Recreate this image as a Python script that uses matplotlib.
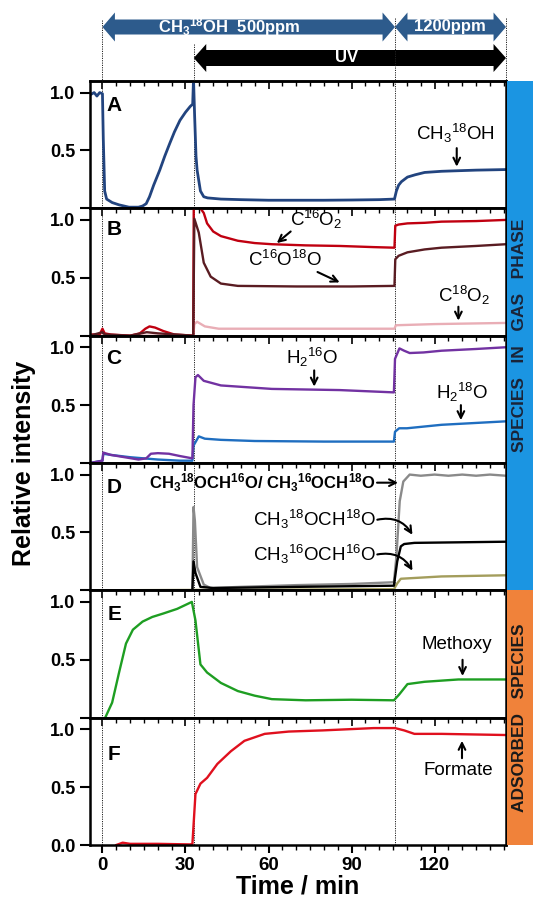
import numpy as np
import matplotlib
matplotlib.use('Agg')
import matplotlib.pyplot as plt
from matplotlib.patches import Polygon, Rectangle
from matplotlib.ticker import MultipleLocator, FixedLocator

plt.rcParams['font.family'] = ['Liberation Sans', 'DejaVu Sans']
plt.rcParams['mathtext.fontset'] = 'custom'
plt.rcParams['mathtext.rm'] = 'Liberation Sans'
plt.rcParams['mathtext.it'] = 'Liberation Sans:italic'
plt.rcParams['mathtext.bf'] = 'Liberation Sans:bold'
plt.rcParams['mathtext.default'] = 'regular'

# ---------------- data ----------------
events = [0, 33, 105.7]          # CH3OH on, UV on, 1200 ppm
x_range = (-4.5, 145.8)

# Panel A : CH3 18OH
A_t = [-4.5, -3, -2, -1, 0, 0.3, 0.8, 1.5, 3.5, 6, 9.6, 13, 14.5, 15.8, 17, 18.5,
       20.7, 22.5, 24.3, 26, 28, 30, 31.7, 32.6, 32.9, 33.3, 33.8, 34.2, 35.4, 36.6,
       38, 42.8, 50, 60, 70, 80, 90, 100, 105.5, 106.2, 107, 108, 110.2, 113, 116.4,
       122.5, 128.6, 135, 145.8]
A_v = [0.98, 1.0, 0.97, 1.0, 0.99, 0.6, 0.15, 0.08, 0.05, 0.03, 0.01, 0.01, 0.02,
       0.04, 0.1, 0.2, 0.33, 0.45, 0.56, 0.66, 0.76, 0.83, 0.88, 0.9, 1.12, 0.8, 0.45,
       0.33, 0.15, 0.1, 0.09, 0.08, 0.075, 0.07, 0.07, 0.07, 0.072, 0.075, 0.08, 0.15,
       0.2, 0.23, 0.27, 0.29, 0.31, 0.32, 0.325, 0.33, 0.335]

# Panel B : CO2 isotopologues
B16_t = [-4.5, -1, 0, 0.8, 3, 10, 13.5, 15.5, 17, 19, 22, 26, 32.8, 33.0, 33.6,
         35.4, 36.6, 37.8, 40, 42.8, 48.9, 55, 61.2, 73.4, 85.7, 98, 105.5, 105.8,
         107, 110.2, 116.4, 122.5, 135, 145.8]
B16_v = [0.01, 0.01, 0.06, 0.02, 0.01, 0.0, 0.02, 0.06, 0.08, 0.07, 0.04, 0.01, 0.0,
         1.2, 1.2, 1.1, 1.06, 0.97, 0.9, 0.86, 0.82, 0.8, 0.79, 0.78, 0.775, 0.765,
         0.76, 0.95, 0.96, 0.97, 0.975, 0.985, 0.99, 1.0]
B1618_t = [-4.5, 0, 0.8, 10, 16, 20, 32.8, 33.2, 34.8, 36.6, 39.1, 42.8, 48.9, 70,
           90, 105.5, 105.8, 107, 110.2, 116.4, 122.5, 135, 145.8]
B1618_v = [0.0, 0.03, 0.01, 0.0, 0.03, 0.02, 0.0, 1.01, 0.89, 0.63, 0.51, 0.45, 0.43,
           0.425, 0.425, 0.43, 0.66, 0.69, 0.72, 0.745, 0.76, 0.775, 0.79]
B18_t = [-4.5, 32.8, 33.2, 34.2, 37, 42, 70, 105.5, 106, 120, 145.8]
B18_v = [0.0, 0.0, 0.1, 0.12, 0.08, 0.06, 0.06, 0.06, 0.09, 0.1, 0.11]

# Panel C : water isotopologues
C16_t = [-4.5, 0, 0.3, 3, 8, 13, 15.8, 17.5, 20, 24, 28, 32.5, 32.9, 33.6, 34.5,
         36.6, 42.8, 61.2, 85.7, 105.3, 105.7, 107.3, 109, 111, 116, 122.5, 135, 145.8]
C16_v = [0.0, 0.02, 0.09, 0.07, 0.05, 0.03, 0.04, 0.08, 0.085, 0.08, 0.06, 0.04, 0.5,
         0.74, 0.76, 0.71, 0.67, 0.64, 0.63, 0.61, 0.9, 0.99, 0.97, 0.95, 0.955, 0.97,
         0.985, 1.0]
C18_t = [-4.5, 0, 0.3, 3, 10, 20, 28, 32.5, 32.9, 34.8, 37, 42.8, 55, 80, 105.3,
         105.7, 107.2, 110, 122.5, 145.8]
C18_v = [0.0, 0.02, 0.08, 0.07, 0.05, 0.03, 0.02, 0.02, 0.15, 0.23, 0.21, 0.2, 0.19,
         0.185, 0.185, 0.27, 0.3, 0.3, 0.33, 0.36]

# Panel D : methyl formate isotopologues
Dmix_t = [-4.5, 32.5, 32.9, 33.4, 34.2, 36.6, 39, 50, 70, 90, 105.3, 106.2, 107.4,
          108.7, 111, 115, 120, 125, 130, 135, 140, 145.8]
Dmix_v = [0.0, 0.0, 0.72, 0.6, 0.2, 0.05, 0.02, 0.03, 0.045, 0.055, 0.07, 0.29, 0.77,
          0.94, 1.0, 0.99, 1.0, 0.99, 1.0, 0.99, 1.0, 0.99]
D18_t = [-4.5, 32.5, 32.9, 33.6, 35.4, 40, 70, 105.3, 106.5, 107.8, 109, 112.7, 145.8]
D18_v = [0.0, 0.0, 0.25, 0.15, 0.03, 0.02, 0.03, 0.04, 0.25, 0.38, 0.4, 0.41, 0.42]
D16_t = [-4.5, 105.3, 106.5, 107.8, 122.5, 145.8]
D16_v = [0.0, 0.01, 0.06, 0.1, 0.12, 0.13]

# Panel E : adsorbed methoxy
E_t = [0.3, 1.0, 3.5, 6, 8.5, 11, 14.5, 18, 22, 27, 32.3, 33.6, 35.4, 37.8, 42.8,
       48.9, 55, 61.2, 73.4, 90, 105.3, 107.2, 110.2, 116.4, 128.6, 145.8]
E_v = [-0.05, 0.0, 0.13, 0.39, 0.64, 0.76, 0.83, 0.87, 0.9, 0.94, 1.0, 0.84, 0.46,
       0.39, 0.3, 0.23, 0.19, 0.16, 0.15, 0.155, 0.15, 0.2, 0.29, 0.31, 0.33, 0.33]

# Panel F : adsorbed formate
F_t = [5, 7.3, 10, 20, 31.7, 32.5, 33.6, 35.4, 37.8, 41.5, 46.4, 51.3, 58.6, 67.3,
       79.6, 98, 105.7, 109, 112.7, 122.5, 145.8]
F_v = [0.0, 0.02, 0.01, 0.01, 0.005, 0.01, 0.44, 0.53, 0.58, 0.7, 0.81, 0.9, 0.96,
       0.98, 0.99, 1.01, 1.01, 0.99, 0.96, 0.96, 0.95]

panel_letters = ['A', 'B', 'C', 'D', 'E', 'F']
letter_y = [0.89, 0.915, 0.9, 0.89, 0.89, 0.78]
x_ticks = [0, 30, 60, 90, 120]
y_ticks = [0.0, 0.5, 1.0]

# ---------------- layout ----------------
W, H = 533, 905
fig = plt.figure(figsize=(W / 100, H / 100), dpi=100)
L, R, T, B = 90, 506, 81, 845
hp = (B - T) / 6.0

def dotted(ax):
    for e in events:
        ax.axvline(e, color='#222222', lw=0.7, ls=(0, (1.2, 1.2)), zorder=0.5)

axes = []
for i in range(6):
    top = T + i * hp
    ax = fig.add_axes([L / W, 1 - (top + hp) / H, (R - L) / W, hp / H])
    ax.set_xlim(*x_range)
    ax.set_ylim(0, 1.1)
    for s in ax.spines.values():
        s.set_linewidth(1.8)
    ax.yaxis.set_major_locator(FixedLocator(y_ticks))
    if i < 5:
        ax.set_yticklabels(['', '0.5', '1.0'])
    else:
        ax.set_yticklabels(['0.0', '0.5', '1.0'])
    ax.tick_params(axis='y', direction='out', length=7.5, width=1.5, labelsize=13,
                   pad=3)
    for lab in ax.get_yticklabels():
        lab.set_fontweight('bold')
    ax.xaxis.set_major_locator(FixedLocator(x_ticks))
    ax.xaxis.set_minor_locator(MultipleLocator(5))
    sec = ax.secondary_xaxis('top')
    sec.xaxis.set_major_locator(FixedLocator(x_ticks))
    sec.xaxis.set_minor_locator(MultipleLocator(5))
    sec.tick_params(which='major', direction='in', length=6, width=1.2, labeltop=False)
    sec.tick_params(which='minor', direction='in', length=3.5, width=1.0)
    sec.spines['top'].set_linewidth(1.8)
    if i < 5:
        ax.tick_params(axis='x', which='both', bottom=False, labelbottom=False)
    else:
        ax.tick_params(axis='x', which='major', direction='out', length=6, width=1.5,
                       labelsize=13.5, pad=3)
        ax.tick_params(axis='x', which='minor', direction='out', length=3.5, width=1.0)
        for lab in ax.get_xticklabels():
            lab.set_fontweight('bold')
    dotted(ax)
    ax.text(4.2, letter_y[i], panel_letters[i], fontsize=15, fontweight='bold',
            ha='center', va='center')
    axes.append(ax)

axA, axB, axC, axD, axE, axF = axes
lw = 1.7
axA.plot(A_t, A_v, color='#22447F', lw=2.0)
axB.plot(B18_t, B18_v, color='#E9AEB6', lw=lw)
axB.plot(B16_t, B16_v, color='#C00010', lw=lw)
axB.plot(B1618_t, B1618_v, color='#5A1C22', lw=lw)
axC.plot(C18_t, C18_v, color='#1F6EC0', lw=lw)
axC.plot(C16_t, C16_v, color='#7232A2', lw=lw)
axD.plot(Dmix_t, Dmix_v, color='#8A8A8A', lw=lw)
axD.plot(D16_t, D16_v, color='#A39D5C', lw=lw)
axD.plot(D18_t, D18_v, color='#000000', lw=lw)
axE.plot(E_t, E_v, color='#1E9E22', lw=lw)
axF.plot(F_t, F_v, color='#E0101E', lw=lw)

# annotations
arr = dict(arrowstyle='->', lw=1.5, color='black', mutation_scale=12, shrinkA=0, shrinkB=0)
fs = 13.5
axA.text(127.4, 0.645, r'CH$_3$$^{18}$OH', fontsize=fs, ha='center', va='center')
axA.annotate('', xy=(128, 0.36), xytext=(128, 0.52), arrowprops=arr)

axB.text(77.1, 1.0, r'C$^{16}$O$_2$', fontsize=fs, ha='center', va='center')
axB.annotate('', xy=(63, 0.8), xytext=(68, 0.9), arrowprops=arr)
axB.text(66.1, 0.65, r'C$^{16}$O$^{18}$O', fontsize=fs, ha='center', va='center')
axB.annotate('', xy=(85.7, 0.46), xytext=(77.7, 0.55), arrowprops=arr)
axB.text(130.5, 0.35, r'C$^{18}$O$_2$', fontsize=fs, ha='center', va='center')
axB.annotate('', xy=(128.6, 0.13), xytext=(128.6, 0.25), arrowprops=arr)

axC.text(75.9, 0.91, r'H$_2$$^{16}$O', fontsize=fs, ha='center', va='center')
axC.annotate('', xy=(76.5, 0.66), xytext=(76.5, 0.8), arrowprops=arr)
axC.text(129.9, 0.61, r'H$_2$$^{18}$O', fontsize=fs, ha='center', va='center')
axC.annotate('', xy=(129.5, 0.37), xytext=(129.5, 0.5), arrowprops=arr)

axD.text(98.8, 0.93, r'CH$_3$$^{18}$OCH$^{16}$O/ CH$_3$$^{16}$OCH$^{18}$O', fontsize=12,
         fontweight='bold', ha='right', va='center')
axD.annotate('', xy=(106.8, 0.93), xytext=(99.2, 0.93), arrowprops=arr)
axD.text(98.8, 0.61, r'CH$_3$$^{18}$OCH$^{18}$O', fontsize=fs, ha='right', va='center')
axD.annotate('', xy=(112, 0.48), xytext=(99.3, 0.61),
             arrowprops=dict(arr, connectionstyle='arc3,rad=-0.35'))
axD.text(98.8, 0.31, r'CH$_3$$^{16}$OCH$^{16}$O', fontsize=fs, ha='right', va='center')
axD.annotate('', xy=(112, 0.17), xytext=(99.3, 0.31),
             arrowprops=dict(arr, connectionstyle='arc3,rad=-0.35'))

axE.text(128, 0.63, 'Methoxy', fontsize=fs, ha='center', va='center')
axE.annotate('', xy=(130.1, 0.36), xytext=(130.1, 0.5), arrowprops=arr)
axF.text(128.4, 0.64, 'Formate', fontsize=fs, ha='center', va='center')
axF.annotate('', xy=(129.9, 0.9), xytext=(129.9, 0.75), arrowprops=arr)

axF.set_xlabel('Time / min', fontsize=18, fontweight='bold', labelpad=0)
fig.text(24 / W, 1 - 463 / H, 'Relative intensity', fontsize=18, fontweight='bold',
         rotation=90, ha='center', va='center')

# ---------------- top arrow band ----------------
axT = fig.add_axes([L / W, 1 - T / H, (R - L) / W, T / H])
axT.set_xlim(*x_range)
axT.set_ylim(T, 0)
axT.axis('off')

def darrow(ax, x1, x2, yc, bh, hh, hl, color):
    pts = [(x1, yc), (x1 + hl, yc - hh), (x1 + hl, yc - bh), (x2 - hl, yc - bh),
           (x2 - hl, yc - hh), (x2, yc), (x2 - hl, yc + hh), (x2 - hl, yc + bh),
           (x1 + hl, yc + bh), (x1 + hl, yc + hh)]
    ax.add_patch(Polygon(pts, closed=True, fc=color, ec='none', clip_on=False))

xr = x_range[1]
for xv, y0 in [(events[0], 20), (events[1], 44), (events[2], 18), (xr, 18)]:
    axT.plot([xv, xv], [y0, T], color='#222222', lw=0.7, ls=(0, (1.2, 1.2)),
             clip_on=False)
blue = '#2D5B8C'
darrow(axT, events[0], events[2], 27, 7.5, 14.5, 4.5, blue)
darrow(axT, events[2], xr, 27, 7.5, 14.5, 4.5, blue)
darrow(axT, events[1], xr, 58, 8, 14, 4.5, 'black')
axT.text(46, 27, r'CH$_3$$^{18}$OH  500ppm', color='white', fontsize=12,
         fontweight='bold', ha='center', va='center')
axT.text(125.6, 27, '1200ppm', color='white', fontsize=12, fontweight='bold',
         ha='center', va='center')
axT.text(88.3, 58, 'UV', color='white', fontsize=12, fontweight='bold',
         ha='center', va='center')

# ---------------- side colour bars ----------------
x0 = 507 / W
fig.patches.append(Rectangle((x0, 1 - (T + 4 * hp) / H), 1 - x0, 4 * hp / H,
                             transform=fig.transFigure, fc='#1B95E2', ec='none'))
fig.patches.append(Rectangle((x0, 1 - B / H), 1 - x0, 2 * hp / H,
                             transform=fig.transFigure, fc='#F0823A', ec='none'))
fig.text(519 / W, 1 - (T + 2 * hp) / H, 'SPECIES   IN   GAS   PHASE', rotation=90,
         fontsize=12.5, fontweight='bold', color='#1A2438', ha='center', va='center')
fig.text(519 / W, 1 - (T + 5 * hp) / H, 'ADSORBED   SPECIES', rotation=90,
         fontsize=12.5, fontweight='bold', color='#1A1A1A', ha='center', va='center')

fig.savefig('out.png', dpi=100)
